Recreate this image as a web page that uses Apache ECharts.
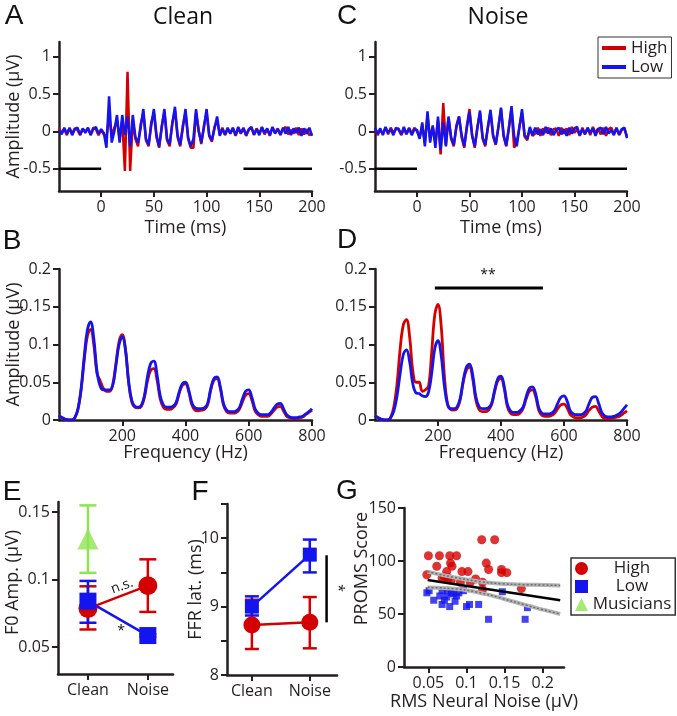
<!DOCTYPE html>
<html><head><meta charset="utf-8">
<script src="https://cdn.jsdelivr.net/npm/echarts@6/dist/echarts.min.js"></script>
<style>html,body{margin:0;padding:0;background:#fff}#c{width:677px;height:716px}</style>
</head><body><div id="c"></div>
<script>
// ---------- DATA ----------
// Panels A / C : waveforms sampled every 2.5 ms from -40 ms to 200 ms
const timeStart = -40, timeStep = 2.5;
const waveCleanHigh = [0.04,-0.02,0.03,-0.05,0.05,-0.03,0.04,0.02,-0.05,0.03,0.0,0.04,-0.04,0.05,0.03,-0.05,
  0.02,-0.04,-0.08,0.2,-0.05,0.05,0.15,-0.1,0.15,-0.53,0.8,-0.53,0.15,-0.1,-0.2,0.1,0.25,-0.12,-0.2,0.12,0.25,-0.08,-0.22,0.08,
  0.26,-0.12,-0.2,0.12,0.28,-0.08,-0.2,0.08,0.25,-0.1,-0.22,-0.22,0.25,0.02,-0.17,0.08,0.25,-0.06,-0.14,0.06,0.15,
  -0.04,0.05,-0.05,0.03,-0.02,0.05,-0.06,0.04,-0.03,0.05,-0.06,0.02,0.05,-0.05,0.04,-0.03,0.05,-0.04,0.03,-0.06,0.05,-0.02,0.04,-0.05,0.03,0.06,-0.04,0.02,-0.03,0.05,-0.05,0.04,-0.04,0.03,-0.05,-0.02];
const waveCleanLow = [0.02,-0.04,0.05,-0.03,0.04,-0.05,0.03,0.05,-0.04,0.04,-0.02,0.05,-0.05,0.03,0.06,-0.03,
  0.03,-0.02,-0.22,0.47,-0.15,0.0,0.22,-0.15,0.22,-0.05,0.2,-0.2,0.22,-0.08,-0.15,0.05,0.3,-0.1,-0.18,0.08,0.3,-0.05,-0.2,0.05,
  0.3,-0.1,-0.17,0.1,0.33,-0.05,-0.18,0.05,0.3,-0.08,-0.2,-0.1,0.3,0.0,-0.15,0.05,0.3,-0.05,-0.12,0.04,0.2,
  -0.06,0.03,-0.04,0.05,-0.03,0.04,-0.05,0.06,-0.02,0.04,-0.05,0.03,0.06,-0.04,0.03,-0.05,0.06,-0.02,0.04,-0.05,0.06,-0.03,0.03,-0.04,0.05,-0.03,0.06,-0.05,0.04,-0.02,0.05,-0.06,0.04,-0.03,0.05,-0.06];
const waveNoiseHigh = [0.03,-0.05,0.02,-0.03,0.05,-0.04,0.05,-0.02,0.03,0.04,-0.05,0.03,-0.04,0.05,-0.03,0.05,
  0.0,-0.08,0.08,-0.15,0.2,-0.1,0.06,-0.15,0.15,-0.31,0.38,-0.18,0.18,-0.1,-0.2,0.08,0.2,-0.08,-0.22,0.08,0.3,-0.05,-0.22,0.06,
  0.25,-0.1,-0.2,0.06,0.26,-0.07,-0.18,0.06,0.3,-0.07,-0.2,0.05,0.3,-0.22,-0.15,0.06,0.25,-0.07,-0.12,0.04,-0.06,
  -0.03,0.05,-0.06,0.04,-0.02,0.05,-0.05,0.03,0.04,-0.06,0.05,-0.03,0.04,-0.05,0.06,-0.02,0.03,-0.06,0.05,-0.03,0.04,-0.05,0.06,-0.02,0.04,-0.04,0.05,-0.06,0.03,0.05,-0.03,0.04,-0.05,0.02,0.04,-0.07];
const waveNoiseLow = [0.05,-0.03,0.04,-0.05,0.06,-0.02,0.03,-0.05,0.05,0.02,-0.04,0.06,-0.03,0.04,-0.05,0.03,
  0.02,-0.1,0.12,-0.2,0.27,-0.15,0.08,-0.22,0.2,-0.25,0.12,-0.2,0.2,-0.08,-0.18,0.05,0.2,-0.05,-0.2,0.05,0.26,-0.06,-0.2,0.04,
  0.28,-0.08,-0.18,0.05,0.29,-0.05,-0.17,0.05,0.32,-0.05,-0.19,0.04,0.34,-0.06,-0.2,0.05,0.3,-0.05,-0.1,0.06,-0.05,
  0.05,-0.04,0.03,-0.05,0.06,-0.03,0.04,-0.05,0.02,0.05,-0.04,0.03,-0.06,0.05,-0.03,0.04,0.06,-0.05,0.03,-0.04,0.05,-0.02,0.04,-0.06,0.03,0.05,-0.04,0.06,-0.03,0.02,-0.05,0.05,-0.04,0.03,0.05,-0.09];
const stimBars = [[-40,-0.5,0,-0.5],[135,-0.5,200,-0.5]];

// Panels B / D : spectra every 10 Hz from 0 to 800 Hz
const freqStep = 10;
const specCleanHigh = [0.006,0.003,0.001,0,0,0.003,0.014,0.04,0.08,0.112,0.12,0.1,0.062,0.052,0.042,0.038,0.038,0.047,0.075,0.104,0.113,0.095,0.05,0.024,0.017,0.016,0.018,0.03,0.052,0.066,0.068,0.053,0.028,0.017,0.014,0.014,0.016,0.021,0.035,0.046,0.048,0.038,0.02,0.013,0.012,0.013,0.014,0.02,0.04,0.053,0.055,0.042,0.02,0.011,0.009,0.009,0.01,0.014,0.024,0.033,0.035,0.026,0.012,0.007,0.005,0.005,0.005,0.008,0.013,0.017,0.018,0.012,0.005,0.003,0.002,0.002,0.003,0.004,0.007,0.01,0.013];
const specCleanLow = [0.006,0.003,0.001,0,0,0.003,0.015,0.042,0.085,0.12,0.13,0.108,0.065,0.045,0.04,0.04,0.04,0.046,0.072,0.1,0.11,0.093,0.052,0.026,0.018,0.017,0.019,0.032,0.058,0.075,0.078,0.06,0.032,0.02,0.017,0.017,0.018,0.023,0.037,0.048,0.05,0.04,0.023,0.016,0.015,0.015,0.016,0.022,0.042,0.055,0.057,0.044,0.022,0.013,0.011,0.011,0.012,0.016,0.028,0.038,0.04,0.03,0.015,0.009,0.007,0.007,0.007,0.01,0.016,0.021,0.022,0.015,0.007,0.004,0.003,0.003,0.004,0.005,0.008,0.011,0.015];
const specNoiseHigh = [0.006,0.003,0.001,0,0,0.004,0.018,0.048,0.095,0.126,0.133,0.11,0.065,0.05,0.05,0.038,0.04,0.045,0.09,0.14,0.153,0.125,0.06,0.022,0.014,0.013,0.015,0.026,0.05,0.066,0.07,0.055,0.027,0.014,0.011,0.011,0.013,0.02,0.038,0.052,0.055,0.042,0.018,0.009,0.007,0.007,0.009,0.015,0.028,0.038,0.04,0.031,0.013,0.006,0.005,0.005,0.006,0.009,0.015,0.02,0.021,0.016,0.007,0.004,0.003,0.003,0.004,0.007,0.013,0.017,0.018,0.012,0.005,0.002,0.002,0.002,0.003,0.004,0.006,0.009,0.012];
const specNoiseLow = [0.006,0.003,0.001,0,0,0.003,0.012,0.032,0.062,0.087,0.093,0.077,0.048,0.036,0.035,0.032,0.031,0.037,0.062,0.095,0.105,0.086,0.046,0.021,0.015,0.015,0.017,0.028,0.052,0.07,0.074,0.06,0.031,0.018,0.015,0.015,0.016,0.022,0.04,0.055,0.058,0.045,0.021,0.012,0.01,0.01,0.012,0.017,0.031,0.042,0.044,0.035,0.016,0.009,0.008,0.008,0.009,0.013,0.022,0.03,0.032,0.025,0.012,0.008,0.007,0.007,0.008,0.012,0.022,0.03,0.031,0.022,0.01,0.005,0.004,0.004,0.005,0.007,0.01,0.015,0.02];
const sigBarD = [[190,0.175,533,0.175]];

// Panel E : F0 amplitude
const conditions = ['Clean','Noise'];
const condX = [1,2];
const E_highMean = [0.0785,0.0955], E_highLo = [0.063,0.076], E_highHi = [0.095,0.115];
const E_lowMean = [0.084,0.0585], E_lowLo = [0.068,0.0575], E_lowHi = [0.099,0.0595];
const E_musMean = [0.130], E_musLo = [0.105], E_musHi = [0.155];

// Panel F : FFR latency
const F_highMean = [8.73,8.77], F_highLo = [8.38,8.39], F_highHi = [9.10,9.14];
const F_lowMean = [9.00,9.76], F_lowLo = [8.87,9.50], F_lowHi = [9.15,9.98];
const sigBarF = [[2.29,8.77,2.29,9.75]];

// Panel G : PROMS vs RMS neural noise
const G_highX = [0.050,0.0645,0.078,0.087,0.048,0.061,0.079,0.081,0.074,0.071,0.076,0.094,0.102,0.092,0.105,0.112,0.121,0.121,0.120,0.137,0.126,0.129,0.146,0.146,0.153,0.172,0.068,0.080];
const G_highY = [105,105,105,105,87,95,98,95,90,85,84,90,90,80,80,83,80,73,120,120,98,92,92,89,89,74,84,82];
const G_lowX = [0.048,0.051,0.057,0.068,0.078,0.085,0.074,0.068,0.075,0.083,0.090,0.096,0.100,0.104,0.116,0.129,0.147,0.177,0.180,0.065,0.071,0.087,0.080];
const G_lowY = [70,72,63,59,57,62,66,72,72,69,70,72,57,59,59,45,71,45,56,67,63,67,70];
const G_fitX = [0.049,0.223], G_fitY = [82,63];
const G_ciX = [0.049,0.07,0.10,0.13,0.16,0.19,0.223];
const G_ciUpper = [90,86.5,82.5,79.5,78,77.5,77];
const G_ciLower = [75,74.5,72.5,68,62,56,50];

// ---------- HELPERS ----------
const RED = '#d40000', BLUE = '#1414ee', GREEN = '#8ee552', AX = '#231f20';
const FONT = 'Open Sans';
const pair = (xs, ys) => ys.map((y, i) => [xs[i], y]);
const timeMs = waveCleanHigh.map((_, i) => timeStart + i * timeStep);
const freqHz = specCleanHigh.map((_, i) => i * freqStep);
const errRows = (xs, lo, hi) => lo.map((l, i) => [xs[i], l, hi[i]]);

function axis(gridIndex, min, max, ticks, labels, extra) {
  const a = {
    type: 'value', gridIndex, min, max,
    axisLine: {show: true, onZero: false, lineStyle: {color: AX, width: 2.5}},
    axisTick: {show: true, length: 6, lineStyle: {color: AX, width: 2}, customValues: ticks},
    axisLabel: {show: true, color: AX, fontFamily: FONT, fontSize: 16, margin: 8, customValues: labels || ticks},
    splitLine: {show: false},
    nameLocation: 'middle', nameMoveOverlap: false,
    nameTextStyle: {color: AX, fontFamily: FONT, fontSize: 18}
  };
  return Object.assign(a, extra || {});
}
function errSeries(xi, data, color, cap, width) {
  return {type: 'custom', xAxisIndex: xi, yAxisIndex: xi, z: 2, silent: true, data, clip: false,
    encode: {x: 0, y: [1, 2]},
    renderItem(params, api) {
      const x = api.value(0);
      const a = api.coord([x, api.value(1)]), b = api.coord([x, api.value(2)]);
      const st = {stroke: color, lineWidth: width};
      return {type: 'group', children: [
        {type: 'line', shape: {x1: a[0], y1: a[1], x2: b[0], y2: b[1]}, style: st},
        {type: 'line', shape: {x1: a[0] - cap / 2, y1: a[1], x2: a[0] + cap / 2, y2: a[1]}, style: st},
        {type: 'line', shape: {x1: b[0] - cap / 2, y1: b[1], x2: b[0] + cap / 2, y2: b[1]}, style: st}]};
    }};
}
function segSeries(xi, data, color, width) {
  return {type: 'custom', xAxisIndex: xi, yAxisIndex: xi, z: 4, silent: true, data, clip: false,
    encode: {x: [0, 2], y: [1, 3]},
    renderItem(params, api) {
      const a = api.coord([api.value(0), api.value(1)]), b = api.coord([api.value(2), api.value(3)]);
      return {type: 'line', shape: {x1: a[0], y1: a[1], x2: b[0], y2: b[1]}, style: {stroke: color, lineWidth: width}};
    }};
}
function lineS(name, xi, data, color, width, smooth) {
  return {type: 'line', name, xAxisIndex: xi, yAxisIndex: xi, data, symbol: 'none', smooth: smooth || false,
    color, lineStyle: {color, width}, itemStyle: {color}, silent: true, animation: false};
}
function markerLine(name, xi, data, color, symbol, size) {
  return {type: 'line', name, xAxisIndex: xi, yAxisIndex: xi, data, symbol, symbolSize: size, z: 3,
    color, lineStyle: {color, width: 2.5}, itemStyle: {color}, silent: true, animation: false};
}
function txt(x, y, text, size, family, extra) {
  return Object.assign({type: 'text', x, y, silent: true,
    style: {text, fontSize: size, fontFamily: family || FONT, fill: '#111', align: 'center', verticalAlign: 'middle'}}, extra || {});
}

// ---------- OPTION ----------
const grids = [
  {left: 59, top: 42, width: 253, height: 149},   // A
  {left: 375, top: 42, width: 252, height: 149},  // C
  {left: 59, top: 269, width: 253, height: 151},  // B
  {left: 375, top: 269, width: 252, height: 151}, // D
  {left: 58, top: 502, width: 115, height: 172},  // E
  {left: 227, top: 504, width: 110, height: 171}, // F
  {left: 404, top: 508, width: 160, height: 159}  // G
].map(g => Object.assign(g, {containLabel: false, outerBoundsMode: 'none'}));

const tTicks = [0,50,100,150,200], ampTicks = [-0.5,0,0.5,1];
const fTicks = [200,400,600,800], sTicks = [0,0.05,0.1,0.15,0.2];
const condFmt = v => conditions[condX.indexOf(v)] || '';

const xAxes = [
  axis(0, -40, 200, tTicks, null, {name: 'Time (ms)', nameGap: 28}),
  axis(1, -40, 200, tTicks, null, {name: 'Time (ms)', nameGap: 28}),
  axis(2, 0, 800, fTicks, null, {name: 'Frequency (Hz)', nameGap: 24}),
  axis(3, 0, 800, fTicks, null, {name: 'Frequency (Hz)', nameGap: 24}),
  axis(4, 0.5, 2.42, condX, null),
  axis(5, 0.57, 2.47, condX, null),
  axis(6, 0.018, 0.228, [0.05,0.1,0.15,0.2], null, {name: 'RMS Neural Noise (μV)', nameGap: 26})
];
xAxes[4].axisLabel.formatter = condFmt;
xAxes[5].axisLabel.formatter = condFmt;

const yAxes = [
  axis(0, -0.8, 1.2, ampTicks, null, {name: 'Amplitude (μV)', nameGap: 36}),
  axis(1, -0.8, 1.2, ampTicks, null),
  axis(2, 0, 0.2, sTicks, null, {name: 'Amplitude (μV)', nameGap: 36}),
  axis(3, 0, 0.2, sTicks, null),
  axis(4, 0.03, 0.1575, [0.05,0.1,0.15], null, {name: 'F0 Amp. (μV)', nameGap: 36}),
  axis(5, 8, 10.5, [8,8.5,9,9.5,10,10.5], [8,9,10], {name: 'FFR lat. (ms)', nameGap: 22}),
  axis(6, 0, 150, [0,50,100,150], null, {name: 'PROMS Score', nameGap: 33})
];
yAxes[6].nameTextStyle = Object.assign({}, yAxes[6].nameTextStyle, {padding: [0, 0, 0, 38]});
yAxes[4].nameTextStyle = Object.assign({}, yAxes[4].nameTextStyle, {padding: [0, 0, 0, 11]});

const series = [
  // A
  lineS('High', 0, pair(timeMs, waveCleanHigh), RED, 2.5),
  lineS('Low', 0, pair(timeMs, waveCleanLow), BLUE, 2.5),
  segSeries(0, stimBars, '#000', 2.5),
  // C
  lineS('High', 1, pair(timeMs, waveNoiseHigh), RED, 2.5),
  lineS('Low', 1, pair(timeMs, waveNoiseLow), BLUE, 2.5),
  segSeries(1, stimBars, '#000', 2.5),
  // B
  lineS('High', 2, pair(freqHz, specCleanHigh), RED, 2.8, 0.4),
  lineS('Low', 2, pair(freqHz, specCleanLow), BLUE, 2.8, 0.4),
  // D
  lineS('High', 3, pair(freqHz, specNoiseHigh), RED, 2.8, 0.4),
  lineS('Low', 3, pair(freqHz, specNoiseLow), BLUE, 2.8, 0.4),
  segSeries(3, sigBarD, '#000', 3),
  // E
  errSeries(4, errRows(condX, E_highLo, E_highHi), RED, 17, 2.5),
  errSeries(4, errRows(condX, E_lowLo, E_lowHi), BLUE, 17, 2.5),
  errSeries(4, errRows(condX.slice(0, 1), E_musLo, E_musHi), GREEN, 17, 2.5),
  markerLine('High', 4, pair(condX, E_highMean), RED, 'circle', 19),
  markerLine('Low', 4, pair(condX, E_lowMean), BLUE, 'rect', 17),
  {type: 'scatter', name: 'Musicians', xAxisIndex: 4, yAxisIndex: 4, data: pair(condX, E_musMean), symbol: 'triangle', symbolSize: 21, color: GREEN, itemStyle: {color: GREEN}, z: 3, silent: true},
  // F
  errSeries(5, errRows(condX, F_highLo, F_highHi), RED, 14, 2.5),
  errSeries(5, errRows(condX, F_lowLo, F_lowHi), BLUE, 14, 2.5),
  markerLine('High', 5, pair(condX, F_highMean), RED, 'circle', 17),
  markerLine('Low', 5, pair(condX, F_lowMean), BLUE, 'rect', 14),
  segSeries(5, sigBarF, '#000', 2.5),
  // G
  {type: 'scatter', name: 'High', xAxisIndex: 6, yAxisIndex: 6, data: pair(G_highX, G_highY), symbol: 'circle', symbolSize: 9, color: RED, itemStyle: {color: RED}, silent: true},
  {type: 'scatter', name: 'Low', xAxisIndex: 6, yAxisIndex: 6, data: pair(G_lowX, G_lowY), symbol: 'rect', symbolSize: 7, color: BLUE, itemStyle: {color: BLUE}, silent: true},
  lineS('ciU', 6, pair(G_ciX, G_ciUpper), '#b4b4b4', 4, 0.3),
  lineS('ciL', 6, pair(G_ciX, G_ciLower), '#b4b4b4', 4, 0.3),
  Object.assign(lineS('ciU2', 6, pair(G_ciX, G_ciUpper), '#6e6e6e', 1.5, 0.3), {lineStyle: {color: '#6e6e6e', width: 1.5, type: [2, 2]}}),
  Object.assign(lineS('ciL2', 6, pair(G_ciX, G_ciLower), '#6e6e6e', 1.5, 0.3), {lineStyle: {color: '#6e6e6e', width: 1.5, type: [2, 2]}}),
  lineS('fit', 6, pair(G_fitX, G_fitY), '#000', 2.5)
];

const legendText = {color: AX, fontFamily: FONT, fontSize: 16};
const option = {
  animation: false,
  backgroundColor: '#fff',
  grid: grids, xAxis: xAxes, yAxis: yAxes, series,
  legend: [
    {left: 598, top: 37, orient: 'vertical', selectedMode: false, itemWidth: 24, itemHeight: 4, itemGap: 1,
      padding: [2, 4], borderColor: '#333', borderWidth: 1, backgroundColor: '#fff',
      textStyle: Object.assign({lineHeight: 18}, legendText, {fontSize: 17}),
      data: [{name: 'High', icon: 'rect', itemStyle: {color: RED}}, {name: 'Low', icon: 'rect', itemStyle: {color: BLUE}}]},
    {left: 571, top: 558, orient: 'vertical', selectedMode: false, itemWidth: 13, itemHeight: 13, itemGap: 1,
      padding: [2, 4], borderColor: '#333', borderWidth: 1.5, backgroundColor: '#fff',
      formatter: n => '{c|' + n + '}',
      textStyle: Object.assign({lineHeight: 17, rich: {c: Object.assign({width: 78, align: 'center', lineHeight: 17}, legendText, {fontSize: 17})}}, legendText),
      data: [{name: 'High', icon: 'circle', itemStyle: {color: RED}}, {name: 'Low', icon: 'rect', itemStyle: {color: BLUE}},
             {name: 'Musicians', icon: 'triangle', itemStyle: {color: GREEN}}]}
  ],
  graphic: [
    txt(14, 16, 'A', 28, 'Liberation Sans'),
    txt(347, 16, 'C', 28, 'Liberation Sans'),
    txt(12, 241, 'B', 28, 'Liberation Sans'),
    txt(347, 240, 'D', 28, 'Liberation Sans'),
    txt(12, 492, 'E', 28, 'Liberation Sans'),
    txt(200, 492, 'F', 28, 'Liberation Sans'),
    txt(347, 491, 'G', 28, 'Liberation Sans'),
    txt(183, 17, 'Clean', 23),
    txt(498, 17, 'Noise', 23),
    txt(488, 275, '**', 14),
    txt(122, 586, 'n.s.', 14, FONT, {rotation: 20 * Math.PI / 180}),
    txt(121, 631, '*', 14),
    txt(338, 588, '*', 14, FONT, {rotation: -Math.PI / 2})
  ]
};
const chart = echarts.init(document.getElementById('c'), null, {renderer: 'canvas', width: 677, height: 716});
chart.setOption(option);
</script></body></html>
